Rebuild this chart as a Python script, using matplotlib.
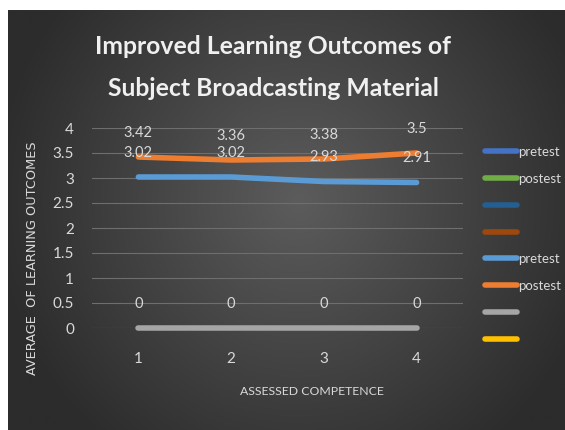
import numpy as np
import matplotlib
matplotlib.use("Agg")
import matplotlib.pyplot as plt
from matplotlib.lines import Line2D

categories = [1, 2, 3, 4]
pretest = [3.02, 3.02, 2.93, 2.91]
postest = [3.42, 3.36, 3.38, 3.5]
zero_series = [0, 0, 0, 0]
y_ticks = [0, 0.5, 1, 1.5, 2, 2.5, 3, 3.5, 4]
y_tick_labels = ["0", "0.5", "1", "1.5", "2", "2.5", "3", "3.5", "4"]
legend_labels = ["pretest", "postest", "", "", "pretest", "postest", "", ""]
legend_colors = ["#4472C4", "#70AD47", "#255E91", "#9E480E",
                 "#5B9BD5", "#ED7D31", "#A5A5A5", "#FFC000"]

W, H = 565, 430
fig = plt.figure(figsize=(W / 100, H / 100), dpi=100, facecolor="white")

# gradient background
bg = fig.add_axes([8 / W, 0, (W - 8) / W, (H - 10) / H])
bg.set_axis_off()
ny, nx = 200, 260
yy, xx = np.mgrid[0:ny, 0:nx]
cx, cy = nx * 0.52, ny * 0.45
r = np.sqrt(((xx - cx) / (nx * 0.55)) ** 2 + ((yy - cy) / (ny * 0.75)) ** 2)
r = np.clip(r, 0, 1)
light = np.array([0x5c, 0x5c, 0x5c]) / 255
dark = np.array([0x2c, 0x2c, 0x2c]) / 255
img = light[None, None, :] * (1 - r[..., None]) + dark[None, None, :] * r[..., None]
bg.imshow(img, aspect="auto", extent=[0, 1, 0, 1], interpolation="bilinear")
bg.set_xlim(0, 1)
bg.set_ylim(0, 1)

narrow = ["Lato", "DejaVu Sans"]
txt_col = "#d9d9d9"

ax = fig.add_axes([92 / W, (H - 328) / H, (463 - 92) / W, 200 / H])
ax.patch.set_alpha(0)
ax.set_xlim(0.5, 4.5)
ax.set_ylim(0, 4)
for v in y_ticks:
    ax.axhline(v, color="#6e6e6e", lw=0.8, zorder=1)
for s in ax.spines.values():
    s.set_visible(False)
ax.set_yticks(y_ticks)
ax.set_yticklabels(y_tick_labels)
ax.set_xticks(categories)
ax.set_xticklabels([str(c) for c in categories])
ax.tick_params(length=0, colors=txt_col, labelsize=11)
ax.tick_params(axis="y", pad=13)
ax.tick_params(axis="x", pad=17)
for lab in ax.get_xticklabels() + ax.get_yticklabels():
    lab.set_family(narrow)

ax.plot(categories, zero_series, color="#A5A5A5", lw=4, solid_capstyle="round",
        zorder=3, clip_on=False)
ax.plot(categories, pretest, color="#5B9BD5", lw=4, solid_capstyle="round", zorder=3)
ax.plot(categories, postest, color="#ED7D31", lw=4, solid_capstyle="round", zorder=3)

for series in (zero_series, pretest, postest):
    for x, v in zip(categories, series):
        ax.annotate(f"{v:g}", (x, v), xytext=(0, 17.5), textcoords="offset points",
                    ha="center", va="center", color=txt_col, fontsize=10.5,
                    family=narrow, zorder=4)

ax.set_xlabel("ASSESSED COMPETENCE", color=txt_col, fontsize=8.8, family=narrow)
ax.xaxis.set_label_coords((312 - 92) / 371, -(386 - 328) / 200)
fig.text(33 / W, 1 - 258 / H, "AVERAGE  OF LEARNING OUTCOMES", rotation=90,
         ha="center", va="center", color=txt_col, fontsize=9.3, family="DejaVu Sans")

fig.text(273 / W, 1 - 47 / H, "Improved Learning Outcomes of", ha="center", va="center",
         color="#f0f0f0", fontsize=17.8, fontweight="bold", family=narrow)
fig.text(273 / W, 1 - 89 / H, "Subject Broadcasting Material", ha="center", va="center",
         color="#f0f0f0", fontsize=17.8, fontweight="bold", family=narrow)

handles = [Line2D([0], [0], color=c, lw=4, solid_capstyle="round") for c in legend_colors]
leg = fig.legend(handles, legend_labels, loc="upper left",
                 bbox_to_anchor=(485 / W, 1 - 146 / H), frameon=False,
                 handlelength=2.4, handletextpad=0.1, labelspacing=1.12,
                 prop={"family": narrow, "size": 9.5}, borderaxespad=0, borderpad=0)
for t in leg.get_texts():
    t.set_color(txt_col)

fig.savefig("out.png", dpi=100, facecolor="white")
